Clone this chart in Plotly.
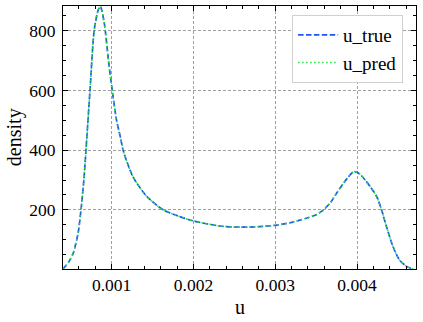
import plotly.graph_objects as go

# density curve
u_vals = [0.000405, 0.00043, 0.00048, 0.00053, 0.00059, 0.000625, 0.00066, 0.000686,
          0.000735, 0.000787, 0.000836, 0.000862, 0.00091, 0.00096, 0.001007, 0.00106,
          0.00111, 0.00114, 0.00126, 0.00143, 0.00163, 0.00183, 0.0020, 0.00232,
          0.00257, 0.00281, 0.00302, 0.00318, 0.00338, 0.0035, 0.00359, 0.00368,
          0.00375, 0.00388, 0.00396, 0.00402, 0.0041, 0.00416, 0.00424, 0.0043,
          0.00436, 0.00444, 0.00452, 0.00461, 0.00469]
density_true = [3, 10, 28, 55, 123, 200, 300, 400,
                600, 803, 870, 882, 825, 703, 600, 500,
                440, 400, 311, 245, 200, 178, 163, 146,
                142, 144, 149, 157, 172, 184, 200, 226,
                256, 306, 328, 323, 300, 278, 245, 200,
                144, 77, 32, 10, 2]
density_pred = list(density_true)

x_ticks = [0.001, 0.002, 0.003, 0.004]
y_ticks = [200, 400, 600, 800]

FONT = "Liberation Serif, Times New Roman, serif"
FS = 17.5

fig = go.Figure()
fig.add_trace(go.Scatter(x=u_vals, y=density_true, mode="lines", name="u_true",
                         line=dict(color="#1f55f5", width=1.7, dash="5.5px,2.4px", shape="spline", smoothing=0.7)))
fig.add_trace(go.Scatter(x=u_vals, y=density_pred, mode="lines", name="u_pred",
                         line=dict(color="#22e040", width=1.5, dash="1.5px,2.5px", shape="spline", smoothing=0.7)))

axis_common = dict(
    showline=True, linecolor="black", linewidth=1, mirror="allticks",
    ticks="inside", ticklen=5, tickwidth=0.8, tickcolor="black",
    showgrid=True, gridcolor="#a0a0a0", griddash="3px,2px", gridwidth=0.8,
    zeroline=False, automargin=False,
    tickfont=dict(family=FONT, size=FS, color="black"),
)

fig.update_xaxes(range=[0.000405, 0.004721], tickvals=x_ticks, ticktext=["0.001", "0.002", "0.003", "0.004"],
                 minor=dict(dtick=0.0002, tick0=0, ticks="inside", ticklen=3, tickcolor="black", showgrid=False),
                 ticklabelstandoff=0, **axis_common)
fig.update_yaxes(range=[2, 883], tickvals=y_ticks,
                 minor=dict(dtick=50, tick0=0, ticks="inside", ticklen=3, tickcolor="black", showgrid=False),
                 ticklabelstandoff=3, **axis_common)

fig.update_layout(
    width=423, height=322,
    margin=dict(l=63, r=7, t=6, b=53),
    paper_bgcolor="white", plot_bgcolor="white",
    font=dict(family=FONT, size=FS, color="black"),
    legend=dict(x=0.649, y=0.966, xanchor="left", yanchor="top",
                bgcolor="white", bordercolor="#d0d0d0", borderwidth=1,
                font=dict(family=FONT, size=19, color="black"),
                itemwidth=40, tracegroupgap=0),
    annotations=[
        dict(text="u", xref="paper", yref="paper", x=0.5, y=-0.146, xanchor="center", yanchor="middle",
             showarrow=False, font=dict(family=FONT, size=20, color="black")),
        dict(text="density", xref="paper", yref="paper", x=-0.137, y=0.5, xanchor="center", yanchor="middle",
             textangle=-90, showarrow=False, font=dict(family=FONT, size=20, color="black")),
    ],
)

fig.write_html("out.html", config={"displayModeBar": False},
               post_script="document.body.style.margin='0';")
